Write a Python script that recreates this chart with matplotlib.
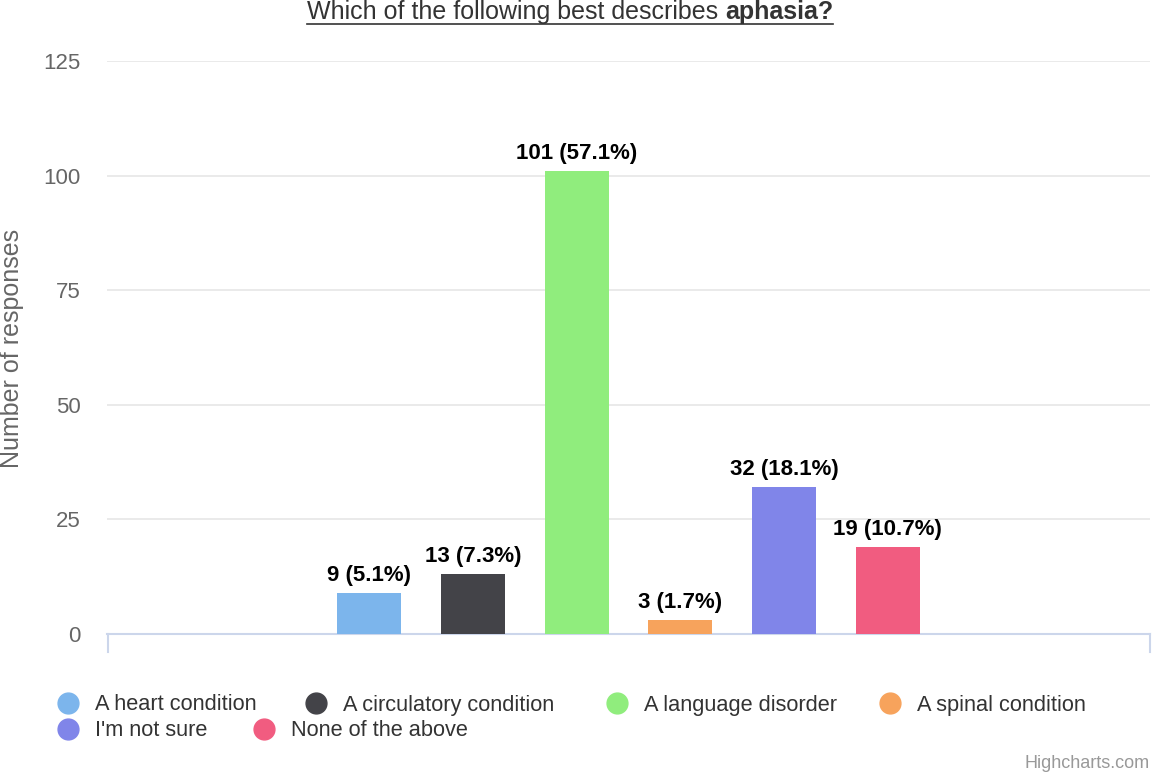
import matplotlib.pyplot as plt
from matplotlib.lines import Line2D

plt.rcParams['font.family'] = ['Liberation Sans', 'DejaVu Sans']

labels = ["A heart condition", "A circulatory condition", "A language disorder",
          "A spinal condition", "I'm not sure", "None of the above"]
counts = [9, 13, 101, 3, 32, 19]
percents = [5.1, 7.3, 57.1, 1.7, 18.1, 10.7]
colors = ["#7cb5ec", "#434348", "#90ed7d", "#f7a35c", "#8085e9", "#f15c80"]
yticks = [0, 25, 50, 75, 100, 125]

W, H = 1152, 775
fig = plt.figure(figsize=(W / 100, H / 100), dpi=100)
ax = fig.add_axes([107 / W, 1 - 634 / H, 1043 / W, 573 / H])

x = list(range(len(counts)))
ax.bar(x, counts, width=0.615, color=colors, zorder=3)
for xi, c, p in zip(x, counts, percents):
    ax.annotate(f"{c} ({p}%)", (xi, c), xytext=(0, 5), textcoords="offset points",
                ha="center", va="bottom", fontsize=16, fontweight="bold", color="black")

ax.set_xlim(-2.53, 7.53)
ax.set_ylim(0, 125)
ax.set_yticks(yticks)
ax.set_xticks([])
ax.grid(axis="y", color="#e6e6e6", linewidth=1.2, zorder=0)
for s in ["top", "right", "left"]:
    ax.spines[s].set_visible(False)
ax.spines["bottom"].set_color("#ccd6eb")
ax.spines["bottom"].set_linewidth(1.5)
ax.tick_params(axis="y", length=0, labelsize=16, labelcolor="#666666", pad=19)

fig.text(12 / W, 1 - 348 / H, "Number of responses", fontsize=18, color="#666666",
         rotation=90, ha="center", va="center")

# end ticks on the x axis
for px in (107.5, 1149.5):
    fig.add_artist(Line2D([px / W, px / W], [1 - 634 / H, 1 - 652 / H],
                          color="#ccd6eb", linewidth=1.5))

# title with bold part and underline
fig.canvas.draw()
r = fig.canvas.get_renderer()
t1 = fig.text(0, 1 - 12 / H, "Which of the following best describes ", fontsize=18,
              color="#333333", ha="left", va="center")
t2 = fig.text(0, 1 - 12 / H, "aphasia?", fontsize=18, fontweight="bold",
              color="#333333", ha="left", va="center")
w1 = t1.get_window_extent(r).width
w2 = t2.get_window_extent(r).width
start = 570 - (w1 + w2) / 2
t1.set_x(start / W)
t2.set_x((start + w1) / W)
fig.add_artist(Line2D([start / W, (start + w1 + w2) / W], [1 - 24 / H, 1 - 24 / H],
                      color="#333333", linewidth=1.2))

# legend
legend_pos = [(68, 703), (316, 703), (617, 703), (890, 703), (68, 729), (264, 729)]
for (lx, ly), lab, col in zip(legend_pos, labels, colors):
    fig.add_artist(Line2D([lx / W], [1 - ly / H], marker="o", markersize=15,
                          color=col, linestyle="none"))
    fig.text((lx + 27) / W, 1 - (ly + 2) / H, lab, fontsize=15.7, color="#333333",
             ha="left", va="center")

fig.text(1150 / W, 1 - 764 / H, "Highcharts.com", fontsize=13, color="#999999",
         ha="right", va="center")

fig.savefig("out.png", dpi=100)
